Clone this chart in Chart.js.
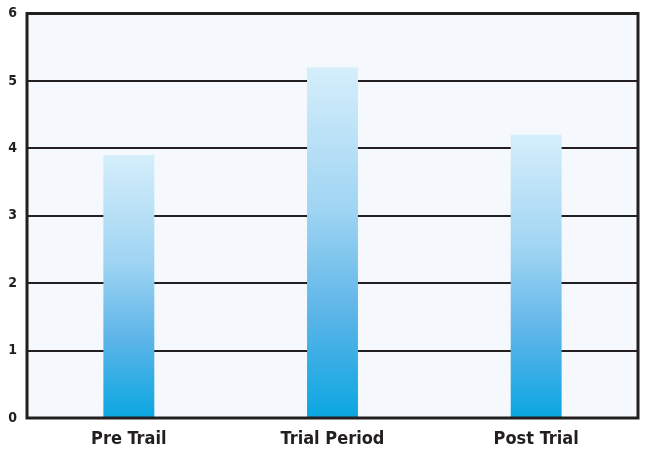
<!DOCTYPE html>
<html>
<head>
<meta charset="utf-8">
<script src="https://cdn.jsdelivr.net/npm/chart.js@4/dist/chart.umd.min.js"></script>
<style>
  html, body { margin: 0; padding: 0; background: #ffffff; overflow: hidden; }
  #wrap { width: 645px; height: 451px; position: relative; }
</style>
</head>
<body>
<div id="wrap"><canvas id="trialChart"></canvas></div>
<script>
// Phases and averaged score per phase
const phases = ["Pre Trail", "Trial Period", "Post Trial"];
const scores = [3.9, 5.2, 4.2];
const yTicks = [0, 1, 2, 3, 4, 5, 6];

const labelFont = "'Liberation Sans Narrow', 'DejaVu Sans Condensed', 'Arial Narrow', 'Liberation Sans', sans-serif";

// Vertical gradient for each bar, light at its top, deep blue at its base
function barGradient(context) {
    const chart = context.chart;
    const area = chart.chartArea;
    if (!area || context.parsed === undefined) return "#8ccdf0";
    const y = chart.scales.y;
    const top = y.getPixelForValue(context.parsed.y);
    const base = y.getPixelForValue(0);
    const g = chart.ctx.createLinearGradient(0, top, 0, base);
    g.addColorStop(0, "#d5eefb");
    g.addColorStop(0.4, "#a0d5f3");
    g.addColorStop(0.7, "#5db5e8");
    g.addColorStop(1, "#0aa6e1");
    return g;
}

// Pale plot background and dark frame around the plot area
const plotFrame = {
    id: "plotFrame",
    beforeDraw(chart) {
        const { ctx, chartArea: a } = chart;
        ctx.save();
        ctx.fillStyle = "#f5f9fd";
        ctx.fillRect(a.left, a.top, a.right - a.left, a.bottom - a.top);
        ctx.restore();
    },
    afterDraw(chart) {
        const { ctx, chartArea: a } = chart;
        ctx.save();
        ctx.strokeStyle = "#231f20";
        ctx.lineWidth = 3;
        ctx.strokeRect(a.left, a.top, a.right - a.left, a.bottom - a.top);
        ctx.restore();
    }
};

new Chart(document.getElementById("trialChart"), {
    type: "bar",
    data: {
        labels: phases,
        datasets: [{
            data: scores,
            backgroundColor: barGradient,
            borderWidth: 0,
            categoryPercentage: 1,
            barPercentage: 0.25
        }]
    },
    options: {
        responsive: true,
        maintainAspectRatio: false,
        animation: false,
        layout: { padding: { top: 0, right: 7, left: 0, bottom: 0 } },
        plugins: {
            legend: { display: false },
            tooltip: { enabled: false }
        },
        scales: {
            x: {
                grid: { display: false },
                border: { display: false },
                ticks: {
                    color: "#231f20",
                    padding: 3,
                    font: { family: labelFont, size: 18, weight: "bold" }
                },
                afterFit(axis) { axis.height = 33; }
            },
            y: {
                min: 0,
                max: 6,
                afterBuildTicks(axis) {
                    axis.ticks = yTicks.map(v => ({ value: v }));
                },
                grid: { color: "#231f20", lineWidth: 2, drawTicks: false },
                border: { display: false },
                ticks: {
                    color: "#231f20",
                    padding: 10,
                    font: { family: labelFont, size: 14, weight: "bold", lineHeight: 0.5 }
                },
                afterFit(axis) { axis.width = 27; }
            }
        }
    },
    plugins: [plotFrame]
});
</script>
</body>
</html>
